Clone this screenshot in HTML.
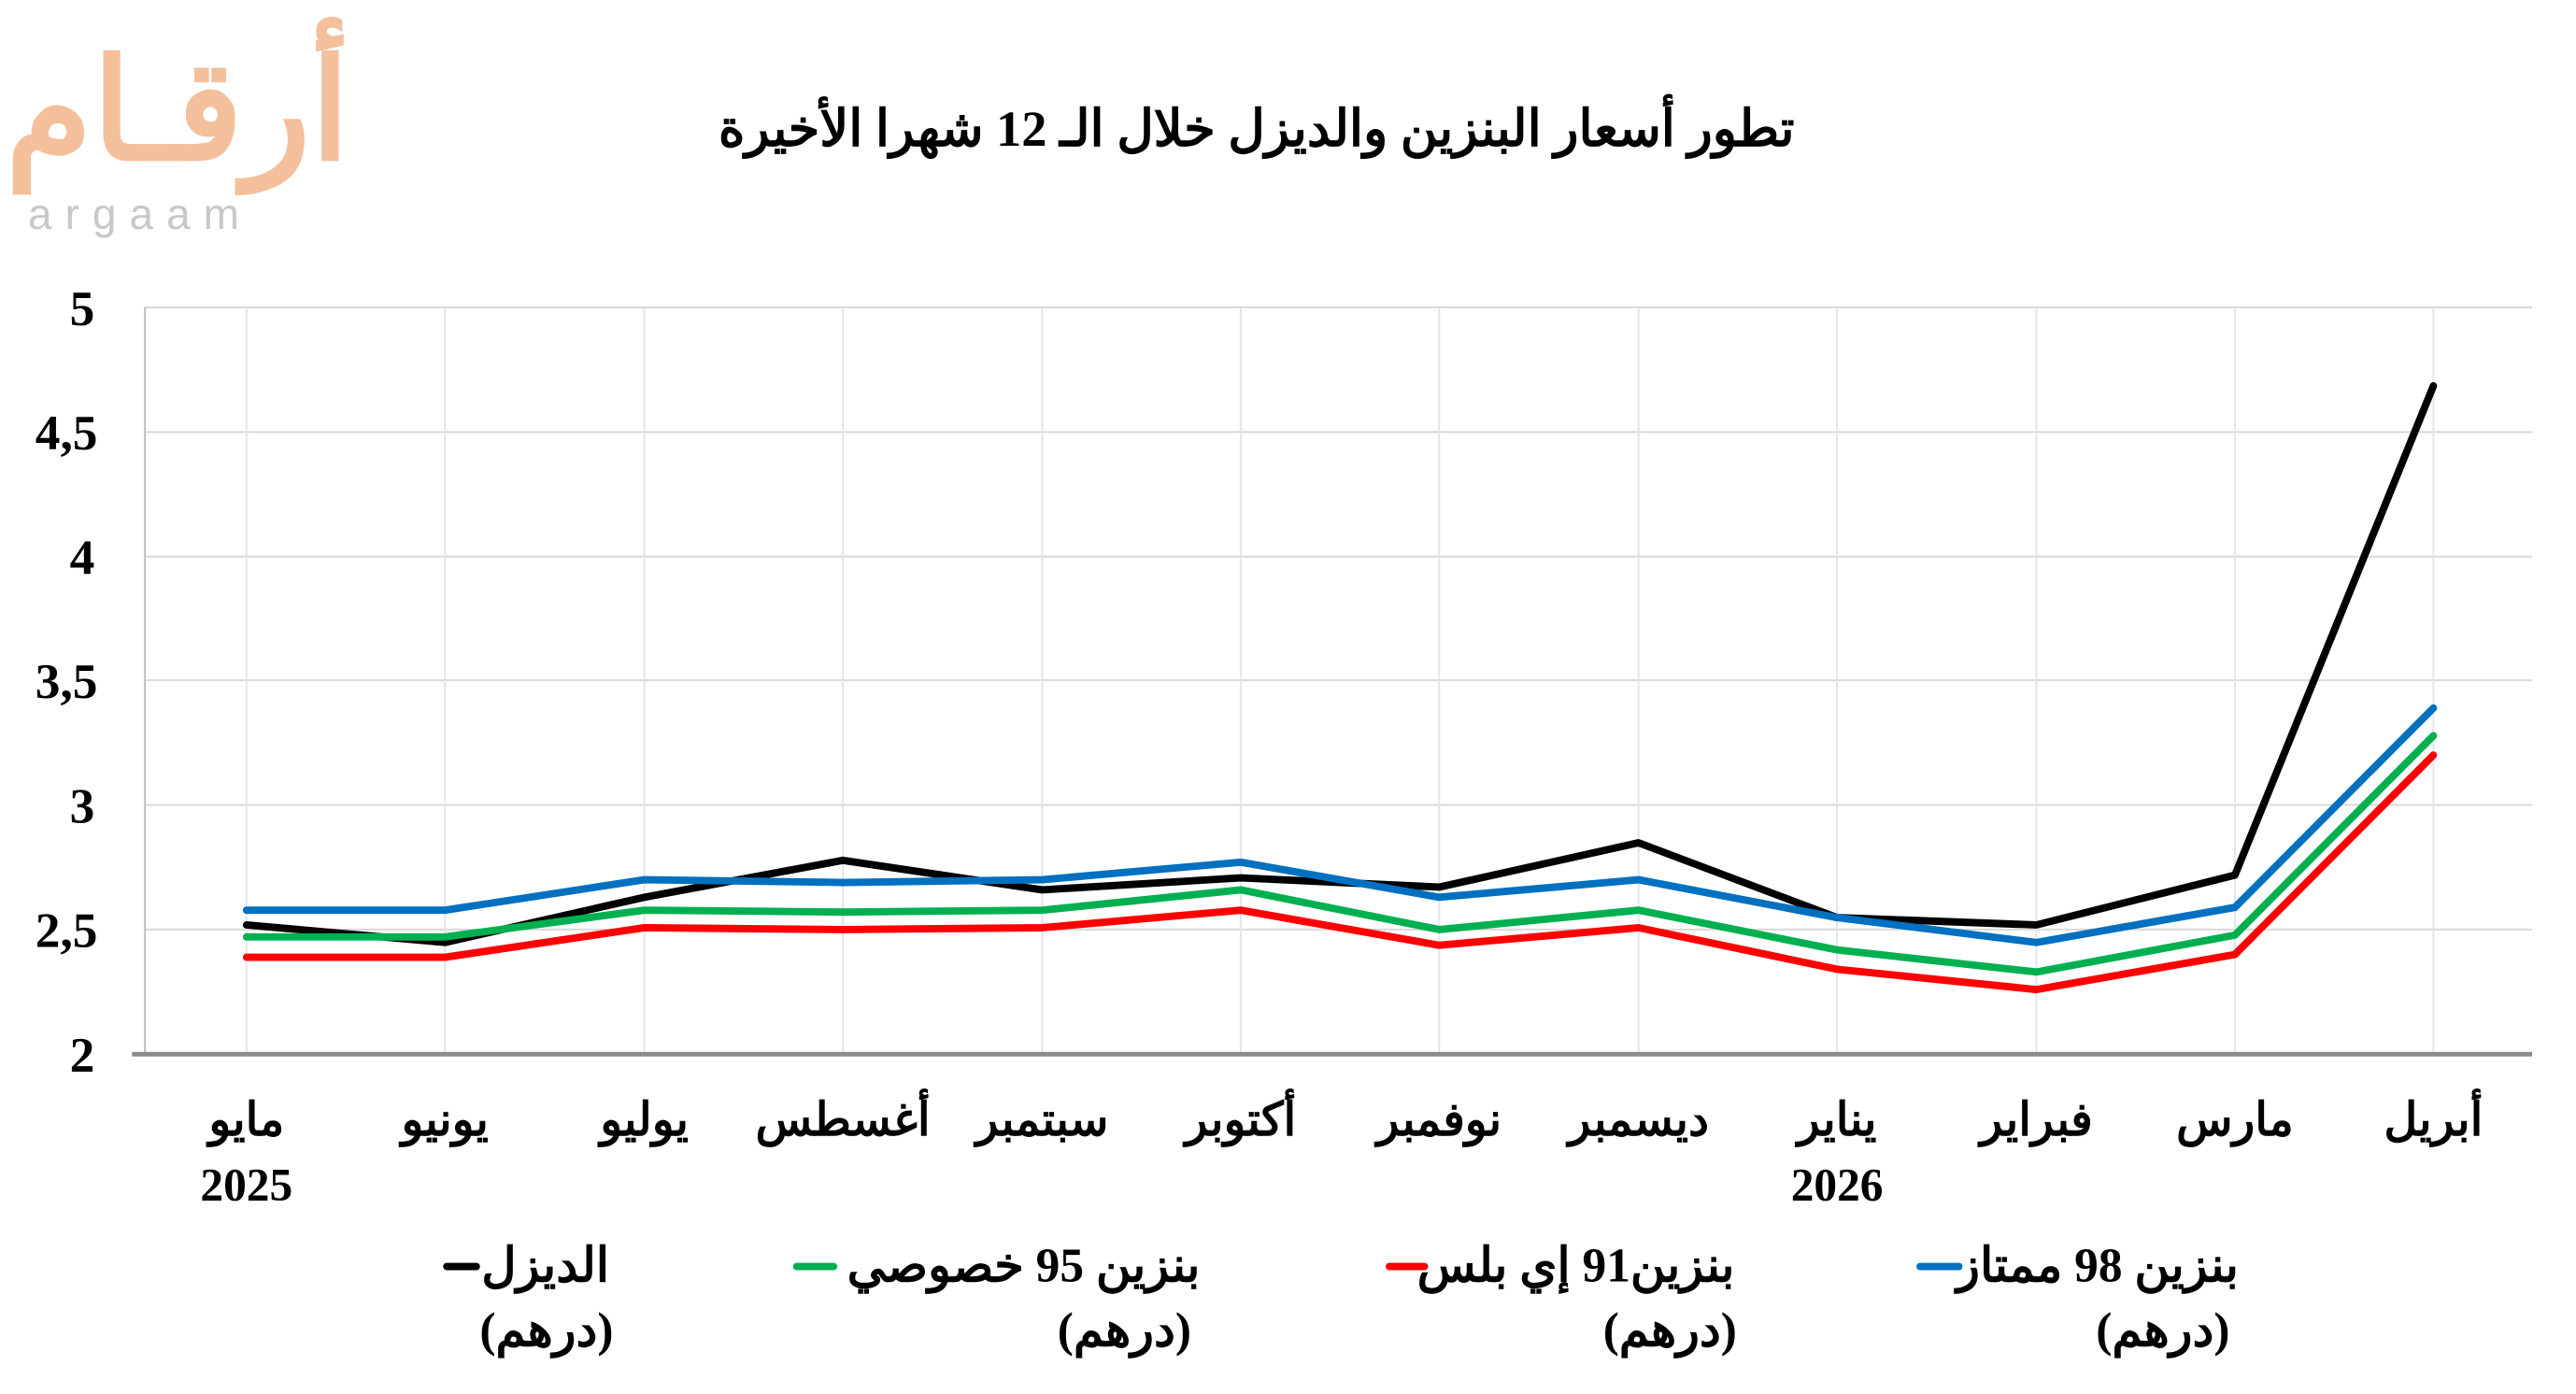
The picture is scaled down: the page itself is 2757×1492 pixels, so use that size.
<!DOCTYPE html>
<html><head><meta charset="utf-8"><style>
html,body{margin:0;padding:0;background:#fff;}
svg{display:block;}
text{font-family:"Liberation Serif","Noto Serif CJK SC",serif;font-weight:bold;fill:#000;}
</style></head><body>
<svg width="2757" height="1492" viewBox="0 0 2757 1492" xmlns="http://www.w3.org/2000/svg">
<!-- logo -->
<text x="190" y="170" font-size="150" text-anchor="middle" direction="rtl" style="fill:#f4c09c;font-family:'Liberation Sans',sans-serif;font-weight:bold">أرقـام</text>
<text x="150" y="245" font-size="46" letter-spacing="14" text-anchor="middle" style="fill:#c8c8c8;font-weight:normal;font-family:'Liberation Sans',sans-serif">argaam</text>
<g transform="scale(0.988)">
<!-- title -->
<text x="1361" y="158" font-size="55" text-anchor="middle" direction="rtl">تطور أسعار البنزين والديزل خلال الـ 12 شهرا الأخيرة</text>
<!-- gridlines -->
<g stroke="#d9d9d9" stroke-width="2">
<line x1="157" y1="333" x2="2743" y2="333"/>
<line x1="157" y1="468" x2="2743" y2="468"/>
<line x1="157" y1="603" x2="2743" y2="603"/>
<line x1="157" y1="737" x2="2743" y2="737"/>
<line x1="157" y1="872" x2="2743" y2="872"/>
<line x1="157" y1="1007" x2="2743" y2="1007"/>
</g>
<g stroke="#dfe6f2" stroke-width="2">
<line x1="267" y1="333" x2="267" y2="1142"/><line x1="482" y1="333" x2="482" y2="1142"/><line x1="698" y1="333" x2="698" y2="1142"/><line x1="913" y1="333" x2="913" y2="1142"/><line x1="1129" y1="333" x2="1129" y2="1142"/><line x1="1344" y1="333" x2="1344" y2="1142"/><line x1="1559" y1="333" x2="1559" y2="1142"/><line x1="1775" y1="333" x2="1775" y2="1142"/><line x1="1990" y1="333" x2="1990" y2="1142"/><line x1="2206" y1="333" x2="2206" y2="1142"/><line x1="2421" y1="333" x2="2421" y2="1142"/><line x1="2636" y1="333" x2="2636" y2="1142"/>
</g>
<line x1="157" y1="333" x2="157" y2="1142" stroke="#bfbfbf" stroke-width="2"/>
<line x1="143" y1="1142" x2="2743" y2="1142" stroke="#8c8c8c" stroke-width="5"/>
<!-- y labels -->
<g font-size="54" text-anchor="middle">
<text x="89" y="352">5</text><text x="72" y="487">4,5</text><text x="89" y="622">4</text><text x="72" y="756">3,5</text><text x="89" y="891">3</text><text x="72" y="1026">2,5</text><text x="89" y="1161">2</text>
</g>
<!-- series -->
<g fill="none" stroke-width="8" stroke-linejoin="round" stroke-linecap="round">
<polyline stroke="#000" points="267,1002 482,1021 698,972 913,932 1129,964 1344,951 1559,961 1775,913 1990,994 2206,1002 2421,948 2636,418"/>
<polyline stroke="#ff0000" points="267,1037 482,1037 698,1005 913,1007 1129,1005 1344,986 1559,1024 1775,1005 1990,1050 2206,1072 2421,1034 2636,818"/>
<polyline stroke="#00b050" points="267,1015 482,1015 698,986 913,988 1129,986 1344,964 1559,1007 1775,986 1990,1029 2206,1053 2421,1013 2636,797"/>
<polyline stroke="#0070c0" points="267,986 482,986 698,953 913,956 1129,953 1344,934 1559,972 1775,953 1990,994 2206,1021 2421,983 2636,767"/>
</g>
<!-- x labels -->
<g font-size="50" text-anchor="middle" direction="rtl">
<text x="267" y="1230">مايو</text><text x="482" y="1230">يونيو</text><text x="698" y="1230">يوليو</text><text x="913" y="1230">أغسطس</text><text x="1129" y="1230">سبتمبر</text><text x="1344" y="1230">أكتوبر</text><text x="1559" y="1230">نوفمبر</text><text x="1775" y="1230">ديسمبر</text><text x="1990" y="1230">يناير</text><text x="2206" y="1230">فبراير</text><text x="2421" y="1230">مارس</text><text x="2636" y="1230">أبريل</text>
<text x="267" y="1300">2025</text><text x="1990" y="1300">2026</text>
</g>
<!-- legend -->
<g stroke-width="8" stroke-linecap="round">
<line x1="484" y1="1372" x2="516" y2="1372" stroke="#000"/>
<line x1="863" y1="1372" x2="903" y2="1372" stroke="#00b050"/>
<line x1="1505" y1="1372" x2="1543" y2="1372" stroke="#ff0000"/>
<line x1="2080" y1="1372" x2="2122" y2="1372" stroke="#0070c0"/>
</g>
<g font-size="52" direction="rtl">
<text x="660" y="1388" text-anchor="start">الديزل</text>
<text x="1300" y="1388" text-anchor="start">بنزين 95  خصوصي</text>
<text x="1879" y="1388" text-anchor="start">بنزين91 إي بلس</text>
<text x="2425" y="1388" text-anchor="start">بنزين 98 ممتاز</text>
</g>
<g font-size="52" text-anchor="middle" direction="rtl">
<text x="592" y="1458">(درهم)</text><text x="1218" y="1458">(درهم)</text><text x="1809" y="1458">(درهم)</text><text x="2343" y="1458">(درهم)</text>
</g>
</g>
</svg>
</body></html>
